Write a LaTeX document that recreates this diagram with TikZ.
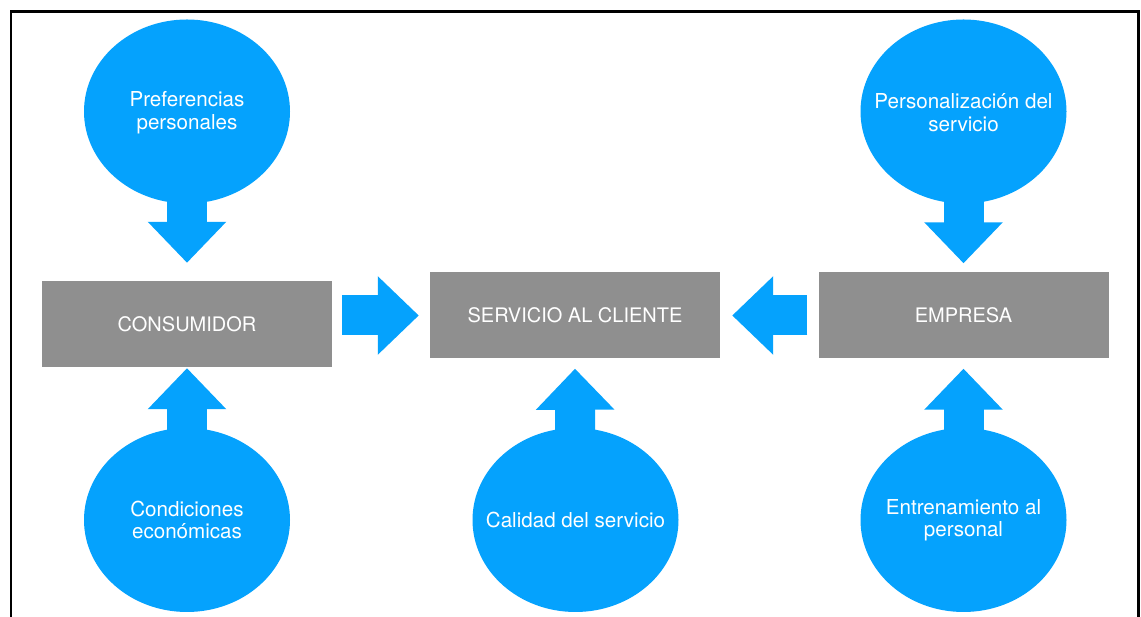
\documentclass[tikz,border=0pt]{standalone}
\usepackage{fontspec}
\setmainfont{TeX Gyre Heros}
\usetikzlibrary{arrows.meta,shapes.geometric}
\definecolor{skyblue}{HTML}{05A2FD}
\definecolor{boxgray}{HTML}{8F8F8F}
\tikzset{
  bubble/.style={ellipse, fill=skyblue, minimum width=206pt, minimum height=184pt, inner sep=0pt},
  bubtext/.style={text=white, align=center, inner sep=0pt, font=\fontsize{20.6}{22.5}\selectfont},
  graybox/.style={rectangle, fill=boxgray, minimum width=290pt, minimum height=86pt, inner sep=0pt,
    text=white, align=center, font=\fontsize{20}{22}\selectfont},
  fatarrow/.style={draw=skyblue, line width=40pt, line cap=butt,
    -{Triangle[length=41pt,width=76pt]}}
}
\begin{document}
\begin{tikzpicture}[x=1pt,y=1pt]
\useasboundingbox (0,0) rectangle (1141,617);
\clip (0,0) rectangle (1141,617);
\fill[white] (0,0) rectangle (1141,617);
% frame
\draw[line width=2.6pt, black] (11,-20) -- (11,605.5) -- (1138.5,605.5) -- (1138.5,-20);
% boxes
\node[graybox] (cons) at (187,293) {CONSUMIDOR};
\node[graybox] (serv) at (575,301.5) {SERVICIO AL CLIENTE};
\node[graybox] (emp) at (963.5,301.5) {EMPRESA};
% bubbles
\node[bubble] (p1) at (187,505.5) {};
\node[bubble] (p2) at (963.5,505.5) {};
\node[bubble] (b1) at (187,97) {};
\node[bubble] (b2) at (575.5,97) {};
\node[bubble] (b3) at (963.5,97) {};
% arrows
\draw[fatarrow] (p1.center) -- ([yshift=18pt]cons.north);
\draw[fatarrow] (p2.center) -- ([yshift=9pt]emp.north);
\draw[fatarrow] (b1.center) -- ([yshift=-1pt]cons.south);
\draw[fatarrow] (b2.center) -- ([yshift=-10pt]serv.south);
\draw[fatarrow] (b3.center) -- ([yshift=-10pt]emp.south);
\draw[fatarrow] ([xshift=10pt]cons.east |- serv.east) -- ([xshift=-11pt]serv.west);
\draw[fatarrow] ([xshift=-11pt]emp.west) -- ([xshift=12pt]serv.east);
% bubble texts
\node[bubtext] (p1t) at ([yshift=-1pt]p1.center) {Preferencias\\personales};
\node[bubtext] (p2t) at ([yshift=-1pt]p2.center) {Personalización del\\servicio};
\node[bubtext] (b1t) at (b1.center) {Condiciones\\económicas};
\node[bubtext] (b2t) at (b2.center) {Calidad del servicio};
\node[bubtext] (b3t) at (b3.center) {Entrenamiento al\\personal};
\end{tikzpicture}
\end{document}
